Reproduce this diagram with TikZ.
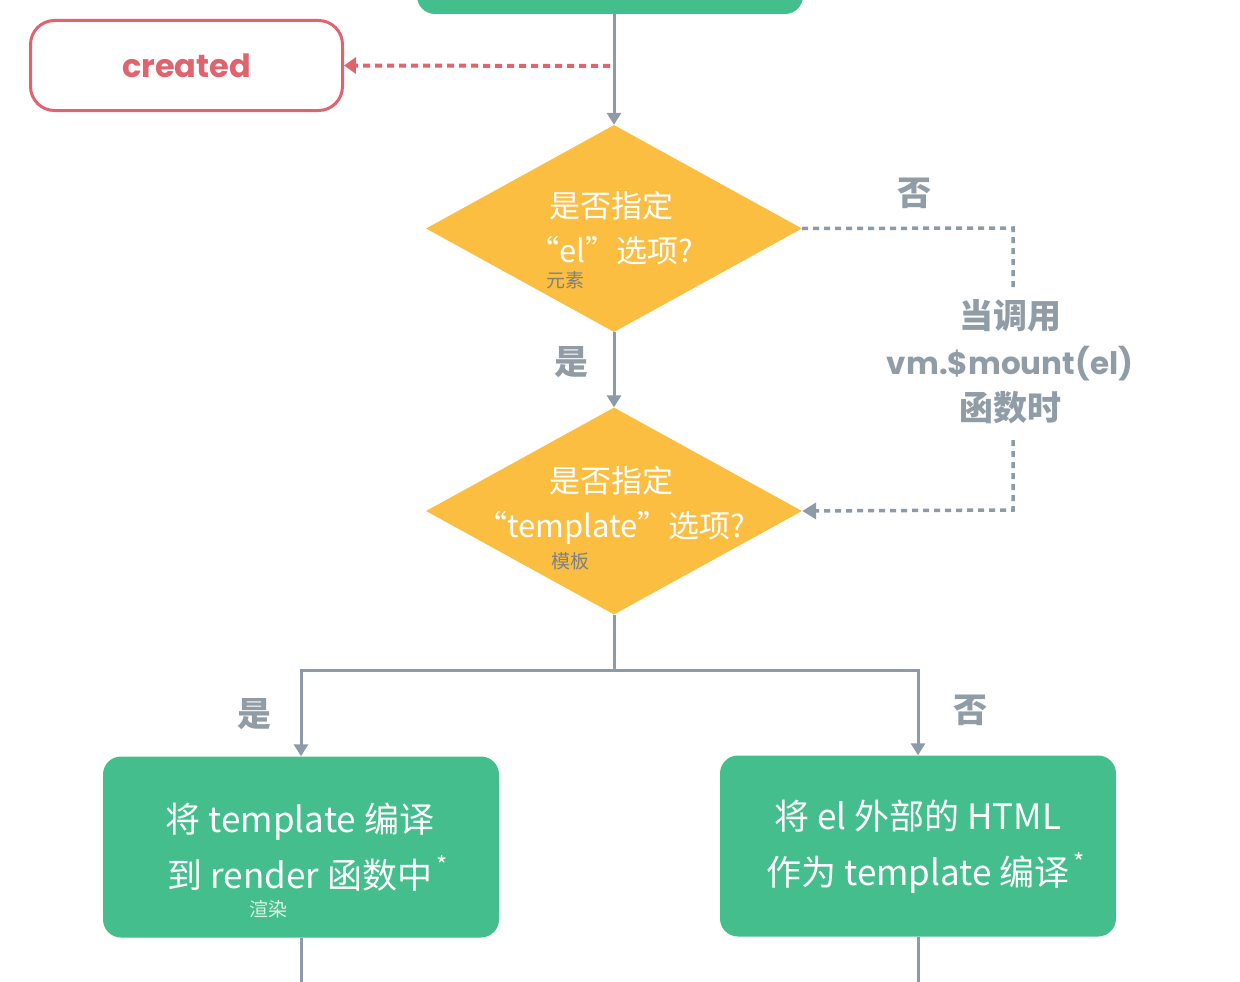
\documentclass[tikz,border=0pt]{standalone}
\usepackage{fontspec}
\setmainfont{Noto Sans CJK SC}
\newfontfamily\pop{Poppins}
\usetikzlibrary{shapes.geometric,arrows.meta}
\definecolor{vgreen}{HTML}{44BE8C}
\definecolor{vyellow}{HTML}{FBBE40}
\definecolor{lgray}{HTML}{8C9BA7}
\definecolor{tgray}{HTML}{909CA6}
\definecolor{vred}{HTML}{E0636E}
\definecolor{sgray}{HTML}{808080}
\definecolor{lgreen}{HTML}{DDF3E8}
\begin{document}
\begin{tikzpicture}[x=1pt,y=-1pt,
  line/.style={draw=lgray,line width=3pt},
  tip/.style={-{Triangle[width=14pt,length=12pt]}},
  dotl/.style={draw=lgray,line width=3.5pt,dash pattern=on 6pt off 5pt},
  reddot/.style={draw=vred,line width=4pt,dash pattern=on 7pt off 5pt},
  greenbox/.style={fill=vgreen,rounded corners=18pt,minimum width=396pt,minimum height=181pt,inner sep=0pt},
  dia/.style={diamond,fill=vyellow,minimum width=376pt,minimum height=207pt,inner sep=0pt},
  dtext/.style={text=white,align=center,font=\fontsize{31}{45}\selectfont},
  btext/.style={text=white,align=center,font=\fontsize{35}{56}\selectfont},
  star/.style={},
  small/.style={font=\fontsize{19}{20}\selectfont},
  lab/.style={text=tgray,font=\fontsize{34}{46}\selectfont\bfseries,align=center},
]
\useasboundingbox (0,0) rectangle (1240,982);
\clip (0,0) rectangle (1240,982);
% top box
\node[greenbox,minimum width=386pt,minimum height=110pt] (start) at (610,-41) {};
% created
\node[draw=vred,line width=3pt,rounded corners=24pt,minimum width=312pt,minimum height=90pt,fill=white,text=vred,font=\pop\bfseries\fontsize{32}{32}\selectfont] (created) at (186.5,65.5) {created};
\coordinate (rs) at (610,66);
\draw[reddot,-{Triangle[width=16pt,length=12pt]},vred] (rs) -- (created.east);
% diamonds
\node[dia] (d1) at (614,228.5) {};
\node[dtext] (d1t) at (611,228) {是否指定\\“el”选项?};
\node[small,text=sgray] (d1s) at (565,280) {元素};
\node[dia] (d2) at (614,511) {};
\node[dtext] (d2t) at (611,505) {是否指定\\“template”选项?};
\node[small,text=sgray] (d2s) at (570,561) {模板};
% main arrows
\draw[line,tip] (start.south -| d1.north) -- (d1.north);
\draw[line,tip] (d1.south) -- (d2.north);
\node[lab] (yes1) at (571,362) {是};
% dotted loop
\node[lab] (no1) at (914,193) {否};
\node[lab] (mnt) at (1010,362) {当调用\\{\pop\bfseries\fontsize{31}{46}\selectfont vm.\$mount(el)}\\函数时};
\coordinate (c1) at (1013,228);
\coordinate (c2) at (1013,288);
\coordinate (c3) at (1013,440);
\coordinate (c4) at (1013,510);
\draw[dotl] (d1.east) -- (c1) -- (c2);
\draw[dotl,-{Triangle[width=16pt,length=14pt]}] (c3) -- (c4) -- (d2.east);
% split
\coordinate (split) at (614,670);
\draw[line] (d2.south) -- (split);
\node[greenbox] (b1) at (301,847) {};
\node[greenbox] (b2) at (918,846) {};
\draw[line,tip] (split) -| (b1.north);
\draw[line,tip] (split) -| (b2.north);
\node[lab] (yes2) at (254,714) {是};
\node[lab] (no2) at (970,710) {否};
\node[btext] (b1t) at (300,847) {将 template 编译\\到 render 函数中\rlap{\raisebox{14pt}{\fontsize{24}{24}\selectfont\,*}}};
\node[small,text=lgreen] (b1s) at (268,909) {渲染};
\node[btext] (b2t) at (918,847) {将 el 外部的 HTML\\作为 template 编译\rlap{\raisebox{14pt}{\fontsize{24}{24}\selectfont\,*}}};
% outgoing
\coordinate (o1) at (301,990);
\coordinate (o2) at (918,990);
\draw[line] (b1.south) -- (o1);
\draw[line] (b2.south) -- (o2);
\end{tikzpicture}
\end{document}
